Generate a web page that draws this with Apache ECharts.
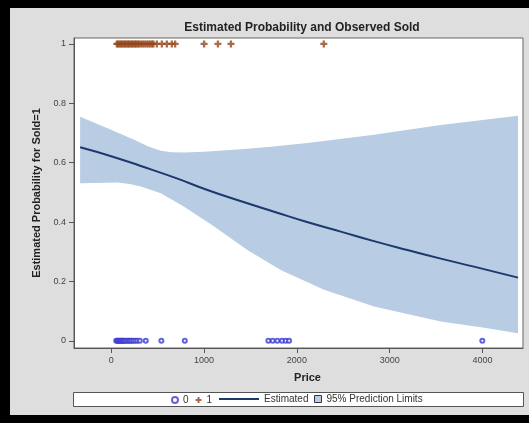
<!DOCTYPE html>
<html><head><meta charset="utf-8">
<script src="https://cdn.jsdelivr.net/npm/echarts@6/dist/echarts.min.js"></script>
<style>html,body{margin:0;padding:0;background:#000;}#c{width:529px;height:423px;}</style>
</head><body><div id="c"></div>
<script>
// ---- data ----
const xTicks = [0, 1000, 2000, 3000, 4000];
const yTicks = [0, 0.2, 0.4, 0.6, 0.8, 1];

const estPrice = [-334, 0, 319, 700, 1037, 1400, 1755, 2100, 2472, 2830, 3190, 3550, 3907, 4381];
const estProb  = [0.652, 0.622, 0.589, 0.548, 0.508, 0.470, 0.435, 0.401, 0.368, 0.336, 0.306, 0.277, 0.250, 0.213];

const upperPrice = [-334, -40, 248, 400, 535, 650, 786, 1000, 1396, 1750, 2113, 2831, 3549, 4381];
const upperProb  = [0.755, 0.716, 0.677, 0.655, 0.640, 0.635, 0.634, 0.637, 0.645, 0.655, 0.666, 0.694, 0.727, 0.758];

const lowerPrice = [-334, 68, 200, 319, 535, 786, 1109, 1467, 1826, 2293, 2831, 3549, 4000, 4381];
const lowerProb  = [0.531, 0.533, 0.528, 0.520, 0.497, 0.452, 0.385, 0.306, 0.239, 0.172, 0.116, 0.065, 0.045, 0.026];

const soldNoPrice = [55, 65, 75, 85, 95, 105, 115, 125, 135, 145, 160, 175, 190, 205, 220, 240, 260, 283, 309, 373, 541, 793, 1693, 1740, 1790, 1840, 1880, 1916, 3997];
const soldYesPrice = [61, 75, 90, 105, 120, 135, 150, 165, 180, 195, 210, 225, 240, 255, 270, 285, 300, 320, 340, 360, 380, 400, 420, 440, 455, 492, 546, 600, 653, 689, 1001, 1150, 1290, 2290];

// ---- chart ----
const FONT = 'Liberation Sans, Arial, sans-serif';
const chart = echarts.init(document.getElementById('c'), null, {renderer: 'canvas'});
const pair = (xs, ys) => xs.map((x, i) => [x, ys[i]]);
const PLUS = 'path://M2,0H4V2H6V4H4V6H2V4H0V2H2Z';

const option = {
  animation: false,
  backgroundColor: '#000',
  textStyle: {fontFamily: FONT},
  graphic: [
    {type: 'rect', z: -10, shape: {x: 10, y: 8, width: 519, height: 407}, style: {fill: '#dedede'}},
    {type: 'rect', z: 0, shape: {x: 73.5, y: 392.5, width: 450, height: 14}, style: {fill: '#fff', stroke: '#555', lineWidth: 1}}
  ],
  title: {
    text: 'Estimated Probability and Observed Sold',
    left: 297, top: 17, textAlign: 'center',
    textStyle: {fontSize: 12, fontWeight: 'bold', color: '#222', fontFamily: FONT}
  },
  legend: [
    {data: ['0', '1'], left: 171, top: 395, itemWidth: 6, itemHeight: 6, itemGap: 7,
     textStyle: {fontSize: 10, color: '#333', fontFamily: FONT}, padding: 0},
    {data: [{name: 'Estimated', icon: 'rect', itemStyle: {color: '#1b3a6b'}}], left: 219, top: 394, itemWidth: 40, itemHeight: 2, itemGap: 4,
     textStyle: {fontSize: 10, color: '#333', fontFamily: FONT}, padding: 0},
    {data: [{name: '95% Prediction Limits', icon: 'rect', itemStyle: {color: '#b8cce4', borderColor: '#334', borderWidth: 1}}],
     left: 314, top: 394, itemWidth: 7, itemHeight: 7, itemGap: 4,
     textStyle: {fontSize: 10, color: '#333', fontFamily: FONT}, padding: 0}
  ],
  grid: {left: 74, top: 38, right: 6, bottom: 75, show: true, backgroundColor: '#fff', borderColor: '#666', borderWidth: 1, containLabel: false},
  xAxis: {
    type: 'value', min: -400, max: 4435,
    name: 'Price', nameLocation: 'middle', nameGap: 24,
    nameTextStyle: {fontSize: 11, fontWeight: 'bold', color: '#222', fontFamily: FONT, padding: [0, 0, 0, 18]},
    axisLine: {show: true, onZero: false, lineStyle: {color: '#555'}},
    axisTick: {show: true, length: 5, customValues: xTicks, lineStyle: {color: '#555'}},
    axisLabel: {customValues: xTicks, fontSize: 9, color: '#444', margin: 8, fontFamily: FONT, formatter: v => String(v)},
    splitLine: {show: false}
  },
  yAxis: {
    type: 'value', min: -0.024, max: 1.02,
    name: 'Estimated Probability for Sold=1', nameLocation: 'middle', nameGap: 30, nameRotate: 90,
    nameTextStyle: {fontSize: 11, fontWeight: 'bold', color: '#222', fontFamily: FONT},
    axisLine: {show: true, onZero: false, lineStyle: {color: '#555'}},
    axisTick: {show: true, length: 5, customValues: yTicks, lineStyle: {color: '#555'}},
    axisLabel: {customValues: yTicks, fontSize: 9, color: '#444', margin: 8, fontFamily: FONT},
    splitLine: {show: false}
  },
  series: [
    {
      name: '95% Prediction Limits', type: 'custom', z: 1,
      itemStyle: {color: '#b8cce4'},
      data: pair(upperPrice, upperProb),
      renderItem: function (params, api) {
        if (params.dataIndex !== 0) return null;
        const pts = [];
        for (let i = 0; i < upperPrice.length; i++) pts.push(api.coord([upperPrice[i], upperProb[i]]));
        for (let i = lowerPrice.length - 1; i >= 0; i--) pts.push(api.coord([lowerPrice[i], lowerProb[i]]));
        return {type: 'polygon', shape: {points: pts}, style: {fill: '#b8cce4'}};
      }
    },
    {
      name: 'Estimated', type: 'line', z: 3, symbol: 'none', showSymbol: false, smooth: true,
      data: pair(estPrice, estProb),
      itemStyle: {color: '#1b3a6b'},
      lineStyle: {color: '#1b3a6b', width: 2}
    },
    {
      name: '0', type: 'scatter', z: 4, symbol: 'emptyCircle', symbolSize: 4,
      data: soldNoPrice.map(p => [p, 0]),
      itemStyle: {color: '#3c3cd2', borderColor: '#3c3cd2', borderWidth: 1}
    },
    {
      name: '1', type: 'scatter', z: 4, symbol: PLUS, symbolSize: 7,
      data: soldYesPrice.map(p => [p, 1]),
      itemStyle: {color: '#96461a'}
    }
  ]
};
chart.setOption(option);
</script></body></html>
